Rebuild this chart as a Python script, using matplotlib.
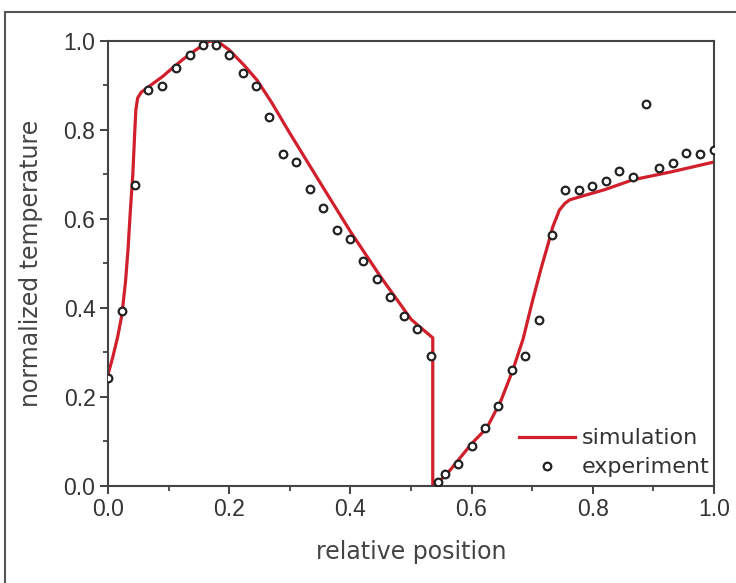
import numpy as np
import matplotlib.pyplot as plt
from matplotlib.patches import Rectangle
from matplotlib.ticker import MultipleLocator

plt.rcParams['font.family'] = ['Liberation Sans', 'DejaVu Sans']

# measured temperature profile
exp_x = [0.0, 0.023, 0.045, 0.066, 0.089, 0.112, 0.135, 0.157, 0.178, 0.2,
         0.223, 0.244, 0.266, 0.289, 0.31, 0.333, 0.355, 0.378, 0.4, 0.421,
         0.444, 0.465, 0.488, 0.51, 0.533, 0.545, 0.556, 0.578, 0.6, 0.622,
         0.644, 0.667, 0.688, 0.711, 0.733, 0.754, 0.777, 0.799, 0.822, 0.843,
         0.866, 0.888, 0.909, 0.932, 0.954, 0.977, 1.0]
exp_y = [0.243, 0.393, 0.676, 0.89, 0.899, 0.939, 0.969, 0.991, 0.991, 0.969,
         0.928, 0.899, 0.829, 0.746, 0.728, 0.667, 0.625, 0.575, 0.555, 0.506,
         0.465, 0.425, 0.382, 0.353, 0.292, 0.009, 0.027, 0.049, 0.09, 0.13,
         0.18, 0.261, 0.292, 0.373, 0.564, 0.665, 0.665, 0.674, 0.685, 0.708,
         0.694, 0.858, 0.715, 0.726, 0.748, 0.746, 0.755]

# simulated profile
sim_x = [0.0, 0.008, 0.016, 0.023, 0.029, 0.033, 0.037, 0.041, 0.044, 0.046,
         0.049, 0.055, 0.07, 0.09, 0.107, 0.125, 0.145, 0.168, 0.185, 0.2,
         0.225, 0.246, 0.27, 0.3, 0.35, 0.4, 0.45, 0.5, 0.515, 0.536,
         0.536, 0.55, 0.56, 0.581, 0.6, 0.625, 0.648, 0.668, 0.685, 0.701,
         0.715, 0.726, 0.734, 0.745, 0.754, 0.762, 0.779, 0.82, 0.866, 0.93,
         1.0]
sim_y = [0.25, 0.29, 0.335, 0.385, 0.46, 0.53, 0.62, 0.7, 0.79, 0.845,
         0.872, 0.885, 0.9, 0.92, 0.94, 0.96, 0.98, 1.0, 0.995, 0.98,
         0.945, 0.912, 0.862, 0.793, 0.682, 0.572, 0.47, 0.375, 0.357, 0.333,
         0.0, 0.015, 0.028, 0.063, 0.095, 0.13, 0.19, 0.26, 0.33, 0.418,
         0.49, 0.542, 0.582, 0.62, 0.635, 0.643, 0.65, 0.666, 0.688, 0.706,
         0.728]

fig = plt.figure(figsize=(7.36, 5.83), dpi=100)
ax = fig.add_axes([0.1467, 0.1664, 0.8233, 0.7633])

ax.plot(sim_x, sim_y, color='#d11f2c', lw=2.3, label='simulation', zorder=2)
ax.plot(exp_x, exp_y, 'o', ms=5.5, mfc='white', mec='#222222', mew=1.6,
        label='experiment', zorder=3)

ax.set_xlim(0, 1.0)
ax.set_ylim(0, 1.0)
ax.xaxis.set_major_locator(MultipleLocator(0.2))
ax.xaxis.set_minor_locator(MultipleLocator(0.1))
ax.yaxis.set_major_locator(MultipleLocator(0.2))
ax.yaxis.set_minor_locator(MultipleLocator(0.1))
ax.xaxis.set_major_formatter(lambda v, p: f'{v:.1f}')
ax.yaxis.set_major_formatter(lambda v, p: f'{v:.1f}')
ax.tick_params(which='major', direction='out', length=6, width=1.3,
               labelsize=16.5, colors='#333333', labelcolor='#333333', pad=3)
ax.tick_params(which='minor', direction='out', length=3.5, width=1.2,
               colors='#333333')
for s in ax.spines.values():
    s.set_linewidth(1.5)
    s.set_color('#444444')

label_font = dict(family='DejaVu Sans', size=17, color='#444444')
ax.set_xlabel('relative position', labelpad=13, **label_font)
ax.set_ylabel('normalized temperature', labelpad=15, **label_font)

ax.legend(loc='lower right', bbox_to_anchor=(0.998, 0.012), frameon=False,
          handlelength=2.5, handletextpad=0.3, borderaxespad=0.0,
          borderpad=0.15, labelspacing=0.4, labelcolor='#333333',
          prop={'family': 'DejaVu Sans', 'size': 16})

# outer frame around the figure
fig.patches.append(Rectangle((0.0068, -0.2), 1.3, 1.179, transform=fig.transFigure,
                             fill=False, lw=1.5, ec='#555555'))

fig.savefig('out.png', dpi=100)
